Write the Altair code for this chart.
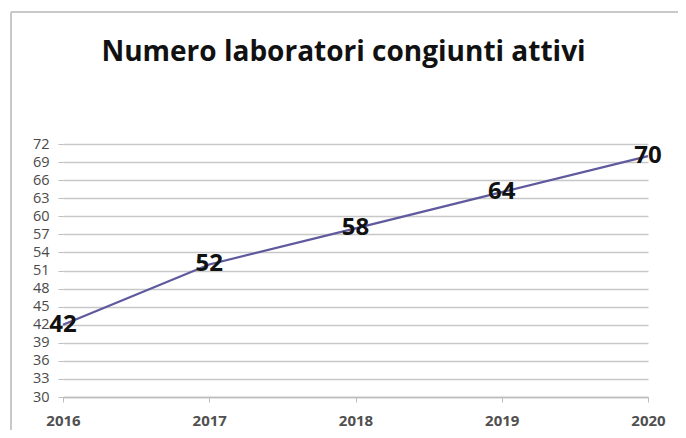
import altair as alt
import pandas as pd

years = [2016, 2017, 2018, 2019, 2020]
values = [42, 52, 58, 64, 70]
y_ticks = list(range(30, 73, 3))
title_text = "Numero laboratori congiunti attivi"

df = pd.DataFrame({"anno": years, "valore": values})
FONT = "Open Sans"

x = alt.X("anno:Q", scale=alt.Scale(domain=[2016, 2020], nice=False),
          axis=alt.Axis(values=years, tickCount=5, format="d", title=None, grid=False,
                        labelFontSize=15, labelColor="#505050", labelFont=FONT,
                        labelFontWeight="bold", labelPadding=11,
                        domainColor="#bdbdbd", domainWidth=1.6,
                        tickColor="#bdbdbd", tickSize=5, labelFlush=False,
                        labelOverlap=False))
y = alt.Y("valore:Q", scale=alt.Scale(domain=[30, 72], nice=False, zero=False),
          axis=alt.Axis(values=y_ticks, tickCount=len(y_ticks), title=None, grid=True,
                        gridColor="#c8c8c8", gridWidth=1.7, labelFontSize=14.5,
                        labelColor="#4a4a4a", labelFont=FONT, labelPadding=9,
                        domain=False, tickColor="#bdbdbd", tickSize=5,
                        labelOverlap=False))

base = alt.Chart(df)
line = base.mark_line(color="#5f5a9e", strokeWidth=2.3).encode(x=x, y=y)
labels = base.mark_text(font=FONT, fontSize=24, fontWeight="bold", color="#111111",
                        baseline="middle", align="center").encode(
    x=x, y=y, text="valore:Q")

frame_left = alt.Chart(df).mark_rule(color="#c8c8c8", strokeWidth=1.5).encode(
    x=alt.value(-52), y=alt.value(-132), y2=alt.value(290))
frame_top = alt.Chart(df).mark_rule(color="#c8c8c8", strokeWidth=1.5).encode(
    x=alt.value(-52), x2=alt.value(620), y=alt.value(-132))

chart = alt.layer(frame_left, frame_top, line, labels).properties(
    width=585, height=253,
    padding={"left": 55, "top": 136, "right": 30, "bottom": 33},
    autosize=alt.AutoSizeParams(type="none"),
    title=alt.TitleParams(title_text, font=FONT, fontSize=28, fontWeight="bold",
                          color="#111111", anchor="middle", offset=-56, dx=-12),
).configure_view(stroke=None)

chart.save("out.html", embed_options={"renderer": "svg", "actions": False})
